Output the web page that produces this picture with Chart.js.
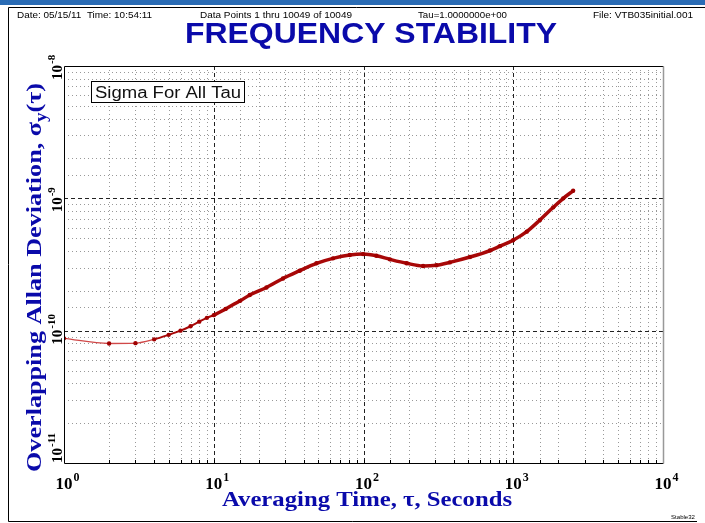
<!DOCTYPE html>
<html>
<head>
<meta charset="utf-8">
<script src="https://cdn.jsdelivr.net/npm/chart.js@4.4.1/dist/chart.umd.min.js"></script>
<style>
  html, body { margin: 0; padding: 0; background: #fff; }
  #wrap { width: 705px; height: 523px; }
</style>
</head>
<body>
<div id="wrap"><canvas id="stabilityChart" width="705" height="523"></canvas></div>
<script>
// averaging time tau (s) and overlapping Allan deviation
const tauValues = [1, 2, 3, 4, 5, 6, 7, 8, 9, 10, 12, 15, 17.4, 22.5, 29, 37.5, 48.5, 62.6, 81, 99.4,
  122, 150, 194, 250, 307, 377, 514, 699, 815, 998, 1230, 1508, 1850, 2158, 2512];
const sigmaValues = [8.75e-11, 8.0e-11, 8.05e-11, 8.6e-11, 9.3e-11, 1.0e-10, 1.08e-10, 1.17e-10, 1.25e-10, 1.31e-10,
  1.46e-10, 1.68e-10, 1.86e-10, 2.12e-10, 2.48e-10, 2.84e-10, 3.23e-10, 3.52e-10, 3.73e-10, 3.79e-10,
  3.68e-10, 3.46e-10, 3.23e-10, 3.08e-10, 3.12e-10, 3.28e-10, 3.6e-10, 4.03e-10, 4.35e-10, 4.82e-10,
  5.6e-10, 6.86e-10, 8.55e-10, 1.0e-9, 1.14e-9];

const xExponents = ["0", "1", "2", "3", "4"];
const yExponents = ["-8", "-9", "-10", "-11"];

const headerTexts = ["Date: 05/15/11  Time: 10:54:11", "Data Points 1 thru 10049 of 10049", "Tau=1.0000000e+00", "File: VTB035initial.001"];
const chartTitle = "FREQUENCY STABILITY";
const legendLabel = "Sigma For All Tau";

const blue = "rgb(10,10,170)";

function isDecade(v) {
  const l = Math.log10(v);
  return Math.abs(l - Math.round(l)) < 1e-6;
}

// draws text scaled horizontally so it takes the given width
function fitText(ctx, text, x, y, width) {
  const w = ctx.measureText(text).width;
  ctx.save();
  ctx.translate(x, y);
  ctx.scale(width / w, 1);
  ctx.fillText(text, 0, 0);
  ctx.restore();
}

const gridPlugin = {
  id: "gridPlugin",
  beforeDraw(chart) {
    const ctx = chart.ctx;
    ctx.save();
    ctx.fillStyle = "#fff";
    ctx.fillRect(0, 0, chart.width, chart.height);
    ctx.restore();
  },
  beforeDatasetsDraw(chart) {
    const ctx = chart.ctx;
    const a = chart.chartArea;
    const xs = chart.scales.x, ys = chart.scales.y;
    ctx.save();
    ctx.lineWidth = 1;
    xs.ticks.forEach(t => {
      const px = Math.round(xs.getPixelForValue(t.value)) + 0.5;
      if (px <= a.left + 1 || px >= a.right - 1) return;
      const major = isDecade(t.value);
      ctx.setLineDash(major ? [4, 3] : [1, 3]);
      ctx.strokeStyle = major ? "#222" : "#999";
      ctx.beginPath();
      ctx.moveTo(px, a.top);
      ctx.lineTo(px, a.bottom);
      ctx.stroke();
      // small tick mark at the bottom edge
      ctx.setLineDash([]);
      ctx.strokeStyle = "#000";
      ctx.beginPath();
      ctx.moveTo(px, a.bottom);
      ctx.lineTo(px, a.bottom - 3);
      ctx.stroke();
    });
    ys.ticks.forEach(t => {
      const py = Math.round(ys.getPixelForValue(t.value)) + 0.5;
      if (py <= a.top + 1 || py >= a.bottom - 1) return;
      const major = isDecade(t.value);
      ctx.setLineDash(major ? [4, 3] : [1, 3]);
      ctx.strokeStyle = major ? "#222" : "#999";
      ctx.beginPath();
      ctx.moveTo(a.left, py);
      ctx.lineTo(a.right, py);
      ctx.stroke();
    });
    ctx.restore();
  },
  afterDatasetsDraw(chart) {
    const ctx = chart.ctx;
    const a = chart.chartArea;
    const xs = chart.scales.x, ys = chart.scales.y;
    ctx.save();

    // plot frame
    ctx.setLineDash([]);
    ctx.lineWidth = 1;
    ctx.strokeStyle = "#000";
    const L = Math.round(a.left) + 0.5, R = Math.round(a.right) + 0.5;
    const T = Math.round(a.top) + 0.5, B = Math.round(a.bottom) + 0.5;
    ctx.beginPath();
    ctx.moveTo(R, T); ctx.lineTo(L, T); ctx.lineTo(L, B); ctx.lineTo(R, B);
    ctx.stroke();
    ctx.strokeStyle = "#999";
    ctx.lineWidth = 1.5;
    ctx.beginPath();
    ctx.moveTo(R, T); ctx.lineTo(R, B);
    ctx.stroke();

    // outer window frame
    ctx.fillStyle = "#2a6cb5";
    ctx.fillRect(0, 0, 705, 5);
    ctx.strokeStyle = "#000";
    ctx.lineWidth = 1;
    ctx.beginPath();
    ctx.moveTo(705, 7.5); ctx.lineTo(8.5, 7.5); ctx.lineTo(8.5, 521.5); ctx.lineTo(697, 521.5);
    ctx.stroke();

    // x tick labels (decades)
    ctx.fillStyle = "#000";
    ctx.textBaseline = "alphabetic";
    const xDecades = xs.ticks.filter(t => isDecade(t.value));
    xDecades.forEach((t, i) => {
      const px = xs.getPixelForValue(t.value);
      ctx.font = "bold 17px 'Liberation Serif'";
      const w = ctx.measureText("10").width;
      ctx.textAlign = "left";
      ctx.fillText("10", px - w / 2, 489);
      ctx.font = "bold 12px 'Liberation Serif'";
      ctx.fillText(xExponents[i] || "", px + w / 2 + 1, 481);
    });

    // y tick labels, rotated
    const yDecades = ys.ticks.filter(t => isDecade(t.value)).sort((p, q) => q.value - p.value);
    yDecades.forEach((t, i) => {
      const py = ys.getPixelForValue(t.value);
      const start = Math.min(py + 14, a.bottom);
      ctx.save();
      ctx.translate(62, start);
      ctx.rotate(-Math.PI / 2);
      ctx.font = "bold 15px 'Liberation Serif'";
      ctx.textAlign = "left";
      ctx.fillText("10", 0, 0);
      const w = ctx.measureText("10").width;
      ctx.font = "bold 11px 'Liberation Serif'";
      ctx.fillText(yExponents[i] || "", w + 1, -7);
      ctx.restore();
    });

    // axis titles
    ctx.fillStyle = blue;
    ctx.textAlign = "left";
    ctx.font = "bold 22px 'Liberation Serif'";
    const xt = "Averaging Time, \u03c4, Seconds";
    fitText(ctx, xt, 222, 506, 290);

    ctx.save();
    ctx.translate(41, 472);
    ctx.rotate(-Math.PI / 2);
    const p1 = "Overlapping Allan Deviation, \u03c3", p2 = "y", p3 = "(\u03c4)";
    ctx.font = "bold 22px 'Liberation Serif'";
    const w1 = ctx.measureText(p1).width;
    const w3 = ctx.measureText(p3).width;
    ctx.font = "bold 16px 'Liberation Serif'";
    const w2 = ctx.measureText(p2).width;
    const total = w1 + w2 + w3;
    ctx.scale(389 / total, 1);
    ctx.font = "bold 22px 'Liberation Serif'";
    ctx.fillText(p1, 0, 0);
    ctx.font = "bold 16px 'Liberation Serif'";
    ctx.fillText(p2, w1, 5);
    ctx.font = "bold 22px 'Liberation Serif'";
    ctx.fillText(p3, w1 + w2, 0);
    ctx.restore();

    // main title
    ctx.font = "bold 30px 'Liberation Sans'";
    fitText(ctx, chartTitle, 185, 43, 372);

    // header line
    ctx.fillStyle = "#000";
    ctx.font = "9px 'Liberation Sans'";
    fitText(ctx, headerTexts[0], 17, 18, 135);
    fitText(ctx, headerTexts[1], 200, 18, 152);
    fitText(ctx, headerTexts[2], 418, 18, 89);
    fitText(ctx, headerTexts[3], 593, 18, 100);

    ctx.font = "6px 'Liberation Sans'";
    fitText(ctx, "Stable32", 671, 519, 24);

    // legend box
    ctx.fillStyle = "#fff";
    ctx.fillRect(92, 82, 152, 20);
    ctx.strokeStyle = "#000";
    ctx.lineWidth = 1;
    ctx.strokeRect(91.5, 81.5, 153, 21);
    ctx.fillStyle = "#111";
    ctx.font = "16px 'Liberation Sans'";
    fitText(ctx, legendLabel, 95, 98, 146);

    ctx.restore();
  }
};

const points = tauValues.map((t, i) => ({ x: t, y: sigmaValues[i] }));

new Chart(document.getElementById("stabilityChart"), {
  type: "line",
  data: {
    datasets: [
      {
        label: legendLabel,
        data: points,
        borderColor: "#a80808",
        backgroundColor: "#a00000",
        pointBackgroundColor: "#a00000",
        pointBorderColor: "#a00000",
        pointRadius: 2.2,
        pointBorderWidth: 0,
        cubicInterpolationMode: "monotone",
        segment: {
          borderWidth: ctx => {
            const t = ctx.p0.parsed.x;
            return t < 4 ? 1.3 : (t < 10 ? 2 : 3.5);
          },
          borderColor: ctx => (ctx.p0.parsed.x < 4 ? "#d04848" : "#a80808"),
        },
      },
    ],
  },
  options: {
    responsive: false,
    animation: false,
    layout: { padding: { left: 64, top: 66, right: 42, bottom: 60 } },
    scales: {
      x: {
        type: "logarithmic",
        min: 1,
        max: 10000,
        grid: { display: false, drawTicks: false },
        border: { display: false },
        ticks: { display: false },
      },
      y: {
        type: "logarithmic",
        min: 1e-11,
        max: 1e-8,
        grid: { display: false, drawTicks: false },
        border: { display: false },
        ticks: { display: false },
      },
    },
    plugins: {
      legend: { display: false },
      title: { display: false },
      tooltip: { enabled: false },
    },
  },
  plugins: [gridPlugin],
});
</script>
</body>
</html>
